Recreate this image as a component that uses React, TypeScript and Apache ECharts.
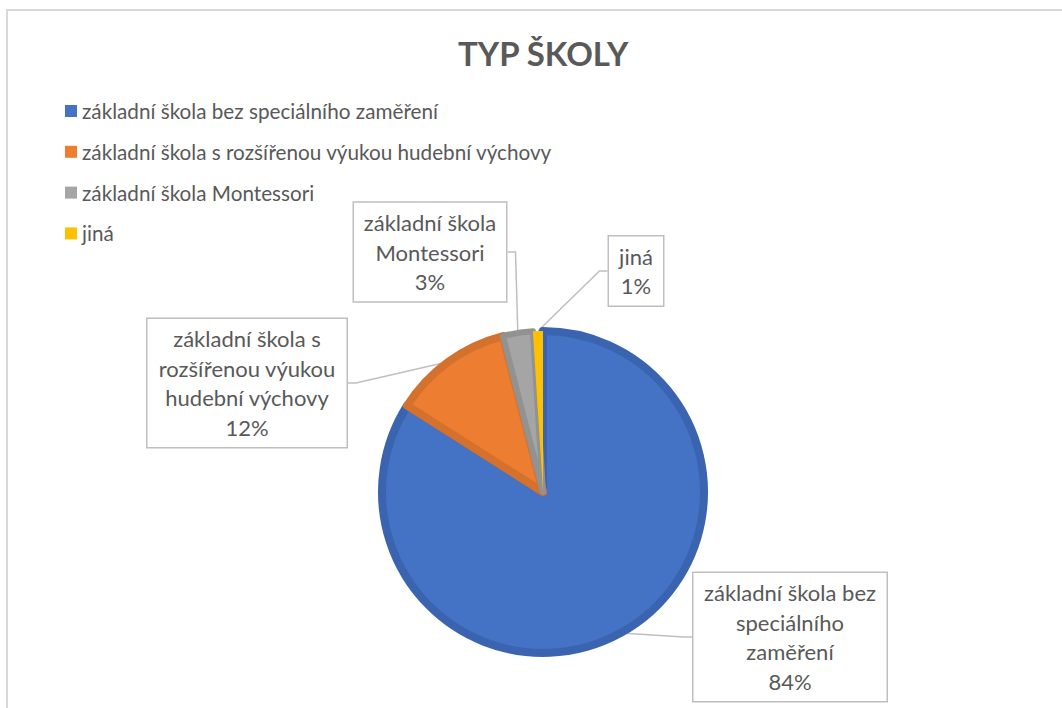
import React, { useEffect, useRef } from "react";
import * as echarts from "echarts";

const TITLE = "TYP ŠKOLY";
const CATEGORIES = [
  "základní škola bez speciálního zaměření",
  "základní škola s rozšířenou výukou hudební výchovy",
  "základní škola Montessori",
  "jiná",
];
const VALUES = [84, 12, 3, 1];
const LABEL_LINES = [
  ["základní škola bez", "speciálního", "zaměření"],
  ["základní škola s", "rozšířenou výukou", "hudební výchovy"],
  ["základní škola", "Montessori"],
  ["jiná"],
];
const FILL = ["#4472C4", "#ED7D31", "#A5A5A5", "#FFC000"];
const EDGE = ["#3B64B0", "#D3712D", "#929292", "#E5AD00"];
const EDGE_WIDTH = [8, 8, 6, 0];
// callout box centres and widths (layout only)
const LABEL_POS = [
  [790, 637],
  [247, 383],
  [430, 252],
  [636, 271],
];
const LABEL_WIDTH = [191, 197, 150, 52];

const FONT = "Lato, 'Open Sans', sans-serif";
const TEXT = "#595959";

export default function App() {
  const ref = useRef<HTMLDivElement>(null);
  useEffect(() => {
    const chart = echarts.init(ref.current!, null, { renderer: "svg" });
    const data = CATEGORIES.map((name, i) => ({
      name,
      value: VALUES[i],
      itemStyle: { color: FILL[i], borderColor: EDGE[i], borderWidth: EDGE_WIDTH[i] },
      label: { width: LABEL_WIDTH[i] },
    }));
    chart.setOption({
      animation: false,
      backgroundColor: "#ffffff",
      title: {
        text: TITLE,
        left: 453,
        top: 31,
        textStyle: { fontFamily: FONT, fontSize: 33, fontWeight: "bold", color: TEXT },
      },
      legend: {
        orient: "vertical",
        left: 60,
        top: 95,
        itemWidth: 12,
        itemHeight: 12,
        itemGap: 18.8,
        icon: "rect",
        itemStyle: { borderWidth: 0 },
        textStyle: { fontFamily: FONT, fontSize: 20.7, color: TEXT, lineHeight: 22 },
        data: CATEGORIES,
      },
      graphic: [
        {
          type: "rect",
          silent: true,
          shape: { x: 7, y: 10, width: 1200, height: 900 },
          style: { fill: "none", stroke: "#D9D9D9", lineWidth: 2 },
        },
      ],
      series: [
        {
          type: "pie",
          center: [543, 492],
          radius: [0, 161],
          startAngle: 90,
          clockwise: true,
          percentPrecision: 0,
          avoidLabelOverlap: false,
          data,
          label: {
            show: true,
            position: "outside",
            formatter: (p: any) => LABEL_LINES[p.dataIndex].join("\n") + "\n" + p.percent + "%",
            fontFamily: FONT,
            fontSize: 22,
            color: TEXT,
            lineHeight: 29.5,
            align: "center",
            backgroundColor: "#ffffff",
            borderColor: "#BFBFBF",
            borderWidth: 1.5,
            padding: [5, 1, 5, 1],
          },
          labelLine: {
            show: true,
            length: 10,
            length2: 8,
            lineStyle: { color: "#BFBFBF", width: 1.5 },
          },
          labelLayout: (params: any) => ({
            x: LABEL_POS[params.dataIndex][0],
            y: LABEL_POS[params.dataIndex][1],
            align: "center",
            verticalAlign: "middle",
          }),
          emphasis: { disabled: true },
        },
      ],
    });
    return () => chart.dispose();
  }, []);
  return (
    <div
      ref={ref}
      style={{ position: "fixed", left: 0, top: 0, width: 1062, height: 708 }}
    />
  );
}
